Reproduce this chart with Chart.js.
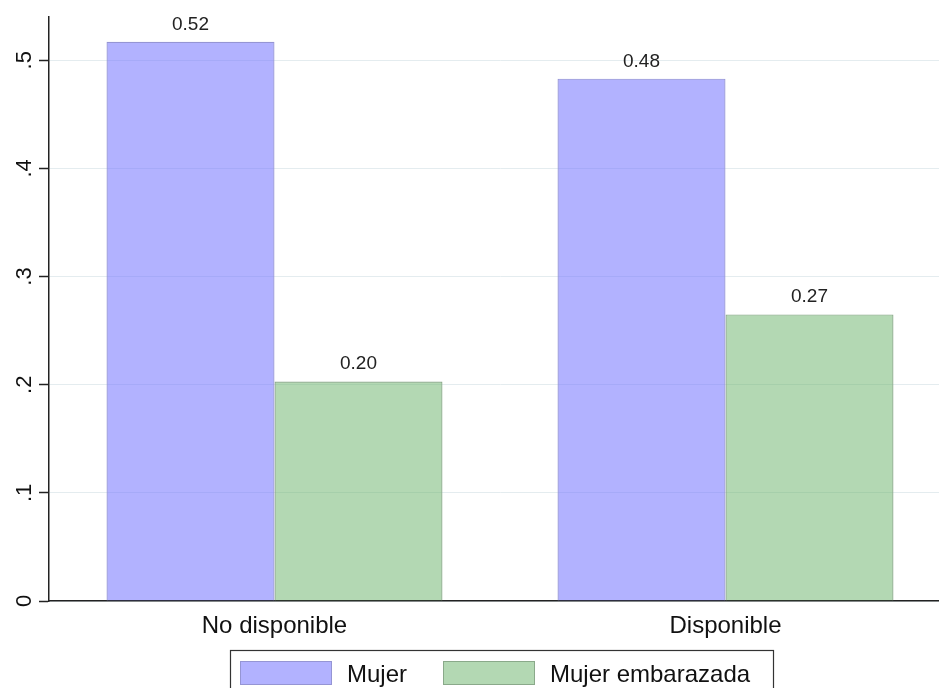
<!DOCTYPE html>
<html>
<head>
<meta charset="utf-8">
<script src="https://cdn.jsdelivr.net/npm/chart.js@4.4.1/dist/chart.umd.min.js"></script>
<style>
  html, body { margin: 0; padding: 0; background: #fff; overflow: hidden; }
  #wrap { width: 939px; height: 688px; overflow: hidden; }
</style>
</head>
<body>
<div id="wrap"><canvas id="grafico" width="951" height="700"></canvas></div>
<script>
// datos
const categorias = ['No disponible', 'Disponible'];
const serieNombres = ['Mujer', 'Mujer embarazada'];
const valoresMujer = [0.517, 0.483];
const valoresEmbarazada = [0.203, 0.265];
const etiquetasY = ['0', '.1', '.2', '.3', '.4', '.5'];
const valoresY = [0, 0.1, 0.2, 0.3, 0.4, 0.5];

const fuente = '"Liberation Sans", Arial, sans-serif';

// etiquetas del eje y giradas (estilo Stata)
const ejeYGirado = {
  id: 'ejeYGirado',
  afterDraw(chart) {
    const ctx = chart.ctx;
    const y = chart.scales.y;
    ctx.save();
    ctx.font = '22px ' + fuente;
    ctx.fillStyle = '#111';
    ctx.textAlign = 'center';
    ctx.textBaseline = 'alphabetic';
    valoresY.forEach((v, i) => {
      ctx.save();
      ctx.translate(31, y.getPixelForValue(v));
      ctx.rotate(-Math.PI / 2);
      ctx.fillText(etiquetasY[i], 0, 0);
      ctx.restore();
    });
    ctx.restore();
  }
};

// valores encima de las barras
const valoresBarras = {
  id: 'valoresBarras',
  afterDatasetsDraw(chart) {
    const ctx = chart.ctx;
    ctx.save();
    ctx.font = '19px ' + fuente;
    ctx.fillStyle = '#222';
    ctx.textAlign = 'center';
    ctx.textBaseline = 'alphabetic';
    chart.data.datasets.forEach((ds, i) => {
      chart.getDatasetMeta(i).data.forEach((bar, j) => {
        ctx.fillText(ds.data[j].toFixed(2), bar.x, bar.y - 12);
      });
    });
    ctx.restore();
  }
};

// leyenda con marco
const leyenda = {
  id: 'leyenda',
  afterDraw(chart) {
    const ctx = chart.ctx;
    ctx.save();
    ctx.strokeStyle = '#333';
    ctx.lineWidth = 1.2;
    ctx.strokeRect(230.5, 650.5, 543, 60);
    const pos = [240, 443];
    ctx.font = '24px ' + fuente;
    ctx.textBaseline = 'alphabetic';
    ctx.textAlign = 'left';
    chart.data.datasets.forEach((ds, i) => {
      const x = pos[i];
      ctx.fillStyle = ds.backgroundColor;
      ctx.fillRect(x, 661, 91, 23);
      ctx.strokeStyle = ds.borderColor;
      ctx.lineWidth = 1;
      ctx.strokeRect(x + 0.5, 661.5, 91, 23);
      ctx.fillStyle = '#111';
      ctx.fillText(ds.label, x + 107, 682);
    });
    ctx.restore();
  }
};

const ctxGrafico = document.getElementById('grafico').getContext('2d');
const grafico = new Chart(ctxGrafico, {
  type: 'bar',
  data: {
    labels: categorias,
    datasets: [{
      label: serieNombres[0],
      data: valoresMujer,
      backgroundColor: 'rgba(120,120,255,0.57)',
      borderColor: '#9595d4',
      borderWidth: 1.2
    }, {
      label: serieNombres[1],
      data: valoresEmbarazada,
      backgroundColor: 'rgba(110,180,110,0.52)',
      borderColor: '#8aa98a',
      borderWidth: 1.2
    }]
  },
  options: {
    responsive: false,
    devicePixelRatio: 1,
    animation: false,
    layout: { padding: { top: 17, left: 0, right: 0, bottom: 0 } },
    categoryPercentage: 0.745,
    barPercentage: 1,
    plugins: {
      legend: { display: false },
      tooltip: { enabled: false }
    },
    scales: {
      x: {
        grid: { display: false, drawTicks: false },
        border: { display: true, color: '#222', width: 1.5 },
        ticks: {
          font: { family: fuente, size: 24 },
          color: '#111',
          padding: 11
        },
        afterFit(scale) { scale.height = 99; }
      },
      y: {
        min: 0,
        max: 0.54,
        ticks: {
          stepSize: 0.1,
          includeBounds: false,
          display: false
        },
        grid: {
          color: '#e4ecef',
          lineWidth: 1,
          drawTicks: true,
          tickLength: 10,
          tickColor: '#222',
          tickWidth: 1.5
        },
        border: { display: true, color: '#222', width: 1.5 },
        afterFit(scale) { scale.width = 49; }
      }
    }
  },
  plugins: [ejeYGirado, valoresBarras, leyenda]
});
</script>
</body>
</html>
